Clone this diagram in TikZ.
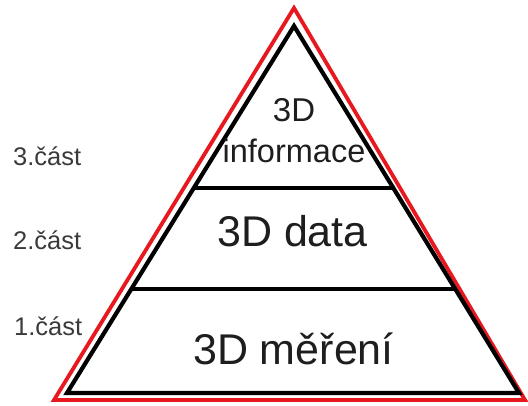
\documentclass[tikz,border=0pt]{standalone}
\usepackage{fontspec}
\setmainfont{Liberation Sans}
\usetikzlibrary{calc}
\definecolor{redline}{HTML}{E8191E}
\definecolor{txt}{HTML}{1E1E1E}
\definecolor{lbl}{HTML}{3A3A3A}
\begin{document}
\begin{tikzpicture}[x=1pt,y=-1pt,
  redtri/.style={draw=redline,line width=3.8pt,line join=miter},
  blacktri/.style={draw=black,line width=4.2pt,line join=miter},
  divider/.style={draw=black,line width=4.2pt},
  maintext/.style={text=txt,inner sep=0pt,anchor=base},
  lbltext/.style={text=lbl,inner sep=0pt,anchor=base west,font=\fontsize{25.5}{28}\selectfont}]
\useasboundingbox (0,0) rectangle (528,406);
% red outer triangle
\coordinate (ra) at (294,8);
\coordinate (rl) at (54,400);
\coordinate (rr) at (525,400);
\draw[redtri] (ra) -- (rl) -- (rr) -- cycle;
% black inner triangle
\coordinate (ba) at (294,26);
\coordinate (bl) at (67,393);
\coordinate (br) at (519,393);
\draw[blacktri] (ba) -- (bl) -- (br) -- cycle;
% dividers
\coordinate (d1l) at ($(ba)!0.441!(bl)$);
\coordinate (d1r) at ($(ba)!0.441!(br)$);
\coordinate (d2l) at ($(ba)!0.717!(bl)$);
\coordinate (d2r) at ($(ba)!0.717!(br)$);
\draw[divider] (d1l) -- (d1r);
\draw[divider] (d2l) -- (d2r);
% texts
\node[maintext,font=\fontsize{33}{36}\selectfont] (t3a) at (294,122) {3D};
\node[maintext,font=\fontsize{32.5}{36}\selectfont] (t3b) at (294,163) {informace};
\node[maintext,font=\fontsize{43}{46}\selectfont] (t2) at (292.5,247) {3D data};
\node[maintext,font=\fontsize{43}{46}\selectfont] (t1) at (293.5,365) {3D měření};
% labels
\node[lbltext] (l3) at (13,166) {3.část};
\node[lbltext] (l2) at (13,250) {2.část};
\node[lbltext] (l1) at (14,336) {1.část};
\end{tikzpicture}
\end{document}
